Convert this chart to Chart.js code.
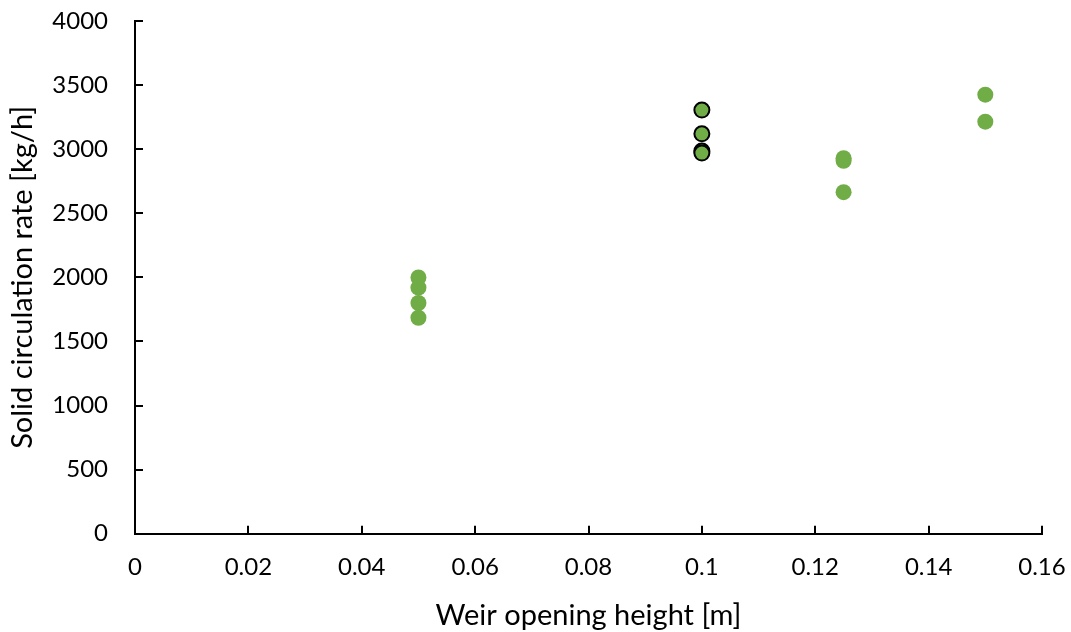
<!DOCTYPE html>
<html>
<head>
<meta charset="utf-8">
<script src="https://cdn.jsdelivr.net/npm/chart.js@4.4.1/dist/chart.umd.min.js"></script>
<style>
html,body{margin:0;padding:0;background:#fff;}
#wrap{width:1071px;height:632px;}
</style>
</head>
<body>
<div id="wrap"><canvas id="c" width="1071" height="632"></canvas></div>
<script>
// Data
const greenX = [0.05, 0.05, 0.05, 0.05, 0.125, 0.125, 0.125, 0.15, 0.15];
const greenY = [2000, 1920, 1800, 1685, 2930, 2910, 2665, 3425, 3215];
const outlinedX = [0.1, 0.1, 0.1, 0.1];
const outlinedY = [3305, 3120, 2985, 2970];
const xTicks = [0, 0.02, 0.04, 0.06, 0.08, 0.1, 0.12, 0.14, 0.16];
const yTicks = [0, 500, 1000, 1500, 2000, 2500, 3000, 3500, 4000];
const xTitle = 'Weir opening height [m]';
const yTitle = 'Solid circulation rate [kg/h]';

const FONT = 'Lato, "Open Sans", sans-serif';
const green = '#70AD47';

function pts(xs, ys){ return xs.map((x,i)=>({x:x, y:ys[i]})); }

const innerTicks = {
  id:'innerTicks',
  afterDraw(chart){
    const ctx = chart.ctx, ca = chart.chartArea;
    const xs = chart.scales.x, ys = chart.scales.y;
    ctx.save();
    ctx.strokeStyle = '#000';
    ctx.lineWidth = 2;
    ctx.beginPath();
    xTicks.forEach(v=>{
      const p = Math.round(xs.getPixelForValue(v));
      ctx.moveTo(p, ca.bottom); ctx.lineTo(p, ca.bottom-8);
    });
    yTicks.forEach(v=>{
      const p = Math.round(ys.getPixelForValue(v));
      ctx.moveTo(ca.left, p); ctx.lineTo(ca.left+8, p);
    });
    ctx.stroke();
    ctx.restore();
  }
};

new Chart(document.getElementById('c'), {
  type:'scatter',
  data:{
    datasets:[
      {data:pts(greenX, greenY), backgroundColor:green, borderColor:green, borderWidth:0, pointRadius:8, pointHoverRadius:8},
      {data:pts(outlinedX, outlinedY), backgroundColor:green, borderColor:'#000', borderWidth:2, pointRadius:7.5, pointHoverRadius:7.5}
    ]
  },
  options:{
    responsive:false,
    animation:false,
    events:[],
    layout:{padding:{left:5, right:29, top:21, bottom:1}},
    plugins:{legend:{display:false}, tooltip:{enabled:false}},
    scales:{
      x:{
        type:'linear', min:0, max:0.16,
        afterBuildTicks(s){ s.ticks = xTicks.map(v=>({value:v})); },
        afterFit(s){ s.paddingLeft = 0; s.paddingRight = 0; },
        border:{display:true, color:'#000', width:2},
        grid:{display:false, drawTicks:false},
        ticks:{color:'#000', font:{family:FONT, size:24}, padding:19, maxRotation:0,
          callback:(v)=>String(Math.round(v*100)/100)},
        title:{display:true, text:xTitle, color:'#000', font:{family:FONT, size:29, lineHeight:1.05}, padding:{top:0, bottom:0}}
      },
      y:{
        min:0, max:4000,
        afterBuildTicks(s){ s.ticks = yTicks.map(v=>({value:v})); },
        afterFit(s){ s.width = 130; s.paddingTop = 0; s.paddingBottom = 0; },
        border:{display:true, color:'#000', width:2},
        grid:{display:false, drawTicks:false},
        ticks:{color:'#000', font:{family:FONT, size:24}, padding:27, callback:(v)=>String(v)},
        title:{display:true, text:yTitle, color:'#000', font:{family:FONT, size:29}, padding:{top:0, bottom:0}}
      }
    }
  },
  plugins:[innerTicks]
});
</script>
</body>
</html>
